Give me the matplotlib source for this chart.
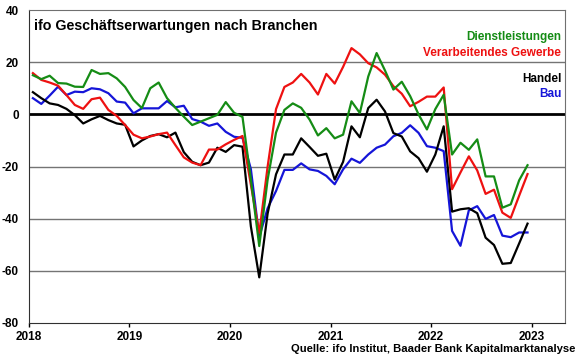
import numpy as np
import matplotlib.pyplot as plt

plt.rcParams['font.family'] = ['Liberation Sans', 'DejaVu Sans']

# monthly values Jan 2018 - Dec 2022
dienstleistungen = [15, 13.5, 14.8, 12, 11.8, 10.6, 10.5, 17, 15.5, 15.8, 13.8, 10.5,
                    5.5, 2.4, 10, 12.2, 6.2, 2.5, -0.9, -4.1, -2.8, -1.5, -0.2, 4.7,
                    0.6, -1, -25, -50.5, -25, -7, 1.7, 4.2, 2.5, -2, -8.1, -5.3,
                    -9.2, -7.8, 5, 0.5, 14.5, 23.5, 16.8, 9.5, 12.5, 7, 0, -5.8,
                    2, 7.5, -15.4, -10.9, -13.6, -9.6, -23.8, -23.8, -35.8, -34.5, -25.3, -19.5]
verarbeitendes = [15.8, 13.2, 12.2, 11, 7.4, 3.6, 2.1, 5.8, 6.4, 1.7, -0.6, -4.1,
                  -7.8, -9.2, -8.5, -7.6, -7, -11.8, -16.5, -18.5, -19.5, -13.5, -13.5, -11.5,
                  -9.8, -8.3, -27, -45.5, -20, 2, 10.5, 12.2, 15.5, 12.2, 7.6, 15.5,
                  11.8, 18.2, 25.4, 23, 19.6, 18, 15.2, 10.8, 7.9, 3.1, 4.8, 6.8,
                  6.8, 10.3, -28.7, -22.3, -16.1, -21.5, -30.5, -28.9, -37.7, -39.7, -31.2, -22.9]
handel = [8.5, 6.2, 4.2, 3.6, 2.1, -0.3, -3.5, -1.9, -0.6, -2.2, -3.5, -4,
          -12.3, -10, -8.3, -7.6, -8.8, -7, -14.5, -18.2, -19.5, -18.5, -12.8, -14.4,
          -11.8, -12.4, -43, -62.5, -38, -23, -15.4, -15.4, -9.2, -12.5, -15.9, -15.1,
          -25, -18.2, -4.6, -8.8, 2.4, 5.6, 1.1, -7.2, -8.5, -14.2, -16.8, -22,
          -15.4, -4.6, -37.3, -36.4, -36, -37.9, -47.3, -50.1, -57.3, -57, -49.5, -41.9]
bau = [6.2, 4, 7.2, 10.6, 7.4, 8.7, 8.5, 10, 9.6, 8.1, 4.9, 4.5,
       0.4, 2.3, 2.3, 2.3, 5.1, 2.7, 3.3, -1.8, -2.8, -4.4, -3.5, -6.7,
       -8.6, -9, -21, -47, -36, -29.4, -21.3, -21.3, -18.8, -21.1, -21.7, -23.6,
       -26.8, -21.1, -17, -18.6, -15.4, -12.8, -11.6, -8.4, -7.1, -4.2, -7.1, -12.2,
       -12.8, -14.1, -44.7, -50.4, -36.8, -35.2, -40.1, -38.6, -46.5, -47.1, -45.3, -45.3]

series = [
    ('Dienstleistungen', dienstleistungen, '#158c15'),
    ('Verarbeitendes Gewerbe', verarbeitendes, '#ee1111'),
    ('Handel', handel, '#000000'),
    ('Bau', bau, '#1515d8'),
]

years = [2018, 2019, 2020, 2021, 2022, 2023]
yticks = [40, 20, 0, -20, -40, -60, -80]

# mid-month positions
x = 2018 + (np.arange(len(handel)) + 0.5) / 12

fig = plt.figure(figsize=(5.8, 3.59), dpi=100)
ax = fig.add_axes([0.0495, 0.1003, 0.9245, 0.8718])

for y in [20, -20, -40, -60]:
    ax.axhline(y, color='#747474', lw=1, zorder=1)
ax.axhline(0, color='black', lw=2, zorder=2)

# draw in reverse so green/red sit on top like the original
for name, vals, col in series[::-1]:
    ax.plot(x, vals, color=col, lw=1.6, zorder=3)

ax.set_xlim(2018, 2023.33)
ax.set_ylim(-80, 40)
ax.set_xticks(years)
ax.set_xticklabels([str(y) for y in years], fontsize=8.5, fontweight='bold')
ax.set_yticks(yticks)
ax.set_yticklabels([str(y) for y in yticks], fontsize=8.5, fontweight='bold')
ax.tick_params(axis='y', length=0, pad=7)
ax.tick_params(axis='x', length=3, width=1, pad=3)

for side in ['top', 'right']:
    ax.spines[side].set_color('#707070')
for side in ['left', 'bottom']:
    ax.spines[side].set_color('#303030')

ax.text(0.01, 0.972, 'ifo Geschäftserwartungen nach Branchen', transform=ax.transAxes,
        fontsize=10.3, fontweight='bold', ha='left', va='top')

label_y = [0.914, 0.864, 0.778, 0.731]
for (name, vals, col), ly in zip(series, label_y):
    ax.text(0.993, ly, name, transform=ax.transAxes, color=col,
            fontsize=8.5, fontweight='bold', ha='right', va='center')

fig.text(0.992, 0.028, 'Quelle: ifo Institut, Baader Bank Kapitalmarktanalyse',
         fontsize=8.1, fontweight='bold', ha='right', va='center')

fig.savefig('out.png', dpi=100)
